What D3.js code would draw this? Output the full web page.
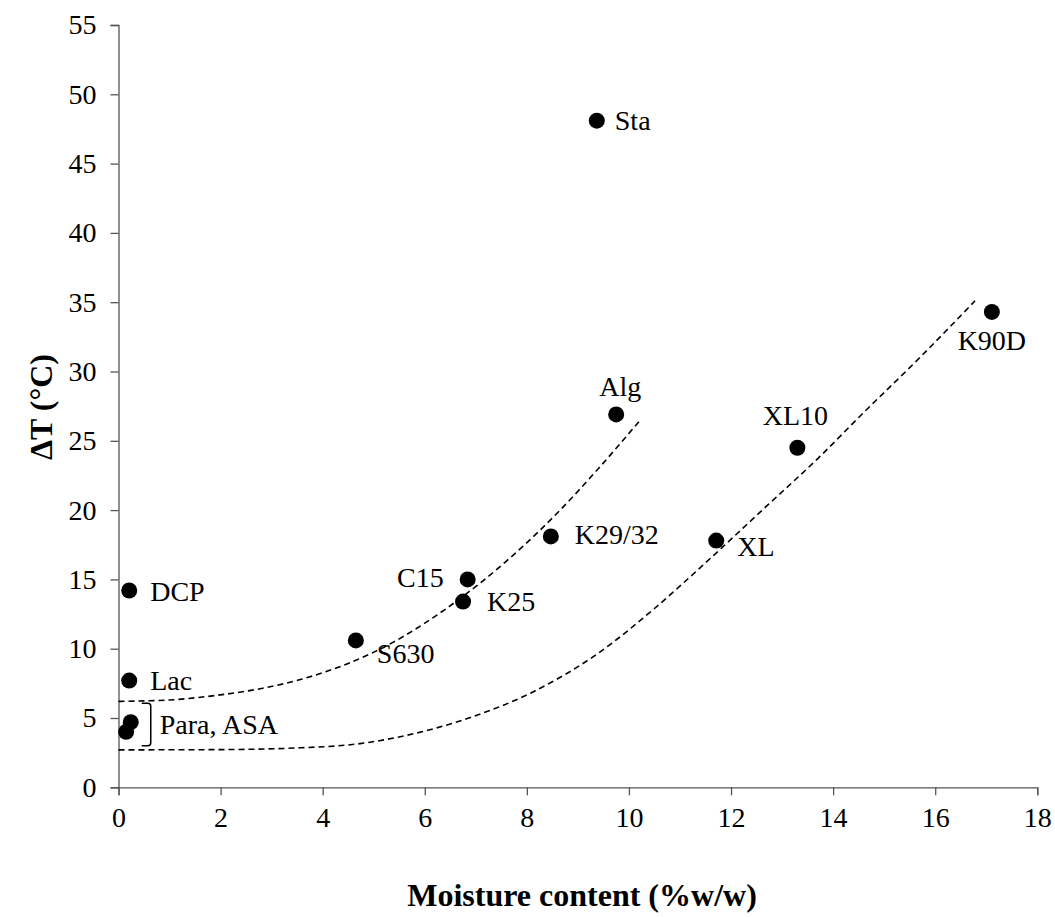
<!DOCTYPE html>
<html>
<head>
<meta charset="utf-8">
<script src="https://cdn.jsdelivr.net/npm/d3@7"></script>
<style>
  html, body { margin: 0; padding: 0; background: #fff; }
  svg { display: block; }
  svg text { font-family: "Liberation Serif", "Times New Roman", serif; fill: #000; }
</style>
</head>
<body>
<svg id="chart" width="1055" height="917"></svg>
<script>
// Excipients: moisture content (%w/w) vs temperature rise ΔT (°C)
const names    = ["Sta", "K90D", "Alg", "XL10", "K29/32", "XL", "C15", "K25", "DCP", "S630", "Lac", "Para", "ASA"];
const moisture = [9.37, 17.11, 9.75, 13.30, 8.47, 11.71, 6.84, 6.75, 0.21, 4.65, 0.21, 0.24, 0.15];
const deltaT   = [48.1, 34.3, 26.9, 24.5, 18.1, 17.8, 15.0, 13.4, 14.2, 10.6, 7.7, 4.7, 4.0];

// Dashed trend curves
const trendUpperX = [0, 1, 1.8, 2.8, 3.6, 4.5, 5.3, 6.0, 6.8, 7.6, 8.3, 8.65, 9.4, 10.2];
const trendUpperY = [6.2, 6.3, 6.58, 7.13, 7.81, 8.94, 10.3, 11.84, 13.92, 16.32, 18.7, 19.99, 22.99, 26.4];
const trendLowerX = [0, 2, 3.56, 4.73, 5.52, 6.82, 8.13, 9.37, 10.5, 11.53, 12.7, 13.75, 14.56, 15.67, 16.78];
const trendLowerY = [2.7, 2.72, 2.85, 3.15, 3.65, 4.95, 6.9, 9.6, 12.9, 16.3, 20.3, 23.9, 26.9, 30.9, 35.1];

// Axis ticks
const xTicks = [0, 2, 4, 6, 8, 10, 12, 14, 16, 18];
const yTicks = [0, 5, 10, 15, 20, 25, 30, 35, 40, 45, 50, 55];

// Label placement per point: [dx, dy, anchor] in pixels from the marker centre
const labelPlacement = {
  "Sta":    [18, 9, "start"],
  "K90D":   [0, 38, "middle"],
  "Alg":    [4, -18, "middle"],
  "XL10":   [-2, -23, "middle"],
  "K29/32": [24, 8, "start"],
  "XL":     [21, 15, "start"],
  "C15":    [-24, 8, "end"],
  "K25":    [24, 9, "start"],
  "DCP":    [21, 11, "start"],
  "S630":   [21, 23, "start"],
  "Lac":    [21, 9, "start"]
};

const svg = d3.select("#chart");
const x = d3.scaleLinear().domain([0, 18]).range([118.5, 1037.3]);
const y = d3.scaleLinear().domain([0, 55]).range([787.3, 25]);

const axisColor = "#555";
const serif = '"Liberation Serif", "Times New Roman", serif';
const fontSize = 28;

// Axes
const xAxis = svg.append("g")
  .attr("transform", `translate(0,${y(0)})`)
  .call(d3.axisBottom(x).tickValues(xTicks).tickSize(8).tickPadding(12).tickFormat(d3.format("d")));
const yAxis = svg.append("g")
  .attr("transform", `translate(${x(0)},0)`)
  .call(d3.axisLeft(y).tickValues(yTicks).tickSize(8).tickPadding(14).tickFormat(d3.format("d")));

[xAxis, yAxis].forEach(g => {
  g.attr("font-family", serif).attr("font-size", fontSize);
  g.selectAll("path").attr("stroke", axisColor).attr("stroke-width", 1.3);
  g.selectAll("line").attr("stroke", axisColor).attr("stroke-width", 1.3);
  g.selectAll("text").attr("fill", "#000").attr("font-family", serif).attr("font-size", fontSize);
});
xAxis.selectAll("text").attr("dy", "0.71em");

// Axis titles
svg.append("text")
  .attr("x", 582).attr("y", 906)
  .attr("text-anchor", "middle")
  .attr("font-size", 32).attr("font-weight", "bold")
  .text("Moisture content (%w/w)");

svg.append("text")
  .attr("transform", `translate(52,407) rotate(-90)`)
  .attr("text-anchor", "middle")
  .attr("font-size", 32).attr("font-weight", "bold")
  .text("ΔT (°C)");

// Trend curves
const line = d3.line().x(d => x(d[0])).y(d => y(d[1])).curve(d3.curveMonotoneX);
[[trendUpperX, trendUpperY], [trendLowerX, trendLowerY]].forEach(([xs, ys]) => {
  svg.append("path")
    .datum(xs.map((v, i) => [v, ys[i]]))
    .attr("d", line)
    .attr("fill", "none")
    .attr("stroke", "#000")
    .attr("stroke-width", 1.6)
    .attr("stroke-dasharray", "6,4");
});

// Markers
const points = names.map((n, i) => ({ name: n, mx: moisture[i], dt: deltaT[i] }));
svg.append("g").selectAll("circle")
  .data(points)
  .join("circle")
  .attr("cx", d => x(d.mx))
  .attr("cy", d => y(d.dt))
  .attr("r", 8)
  .attr("fill", "#000");

// Point labels
svg.append("g").selectAll("text")
  .data(points.filter(d => labelPlacement[d.name]))
  .join("text")
  .attr("x", d => x(d.mx) + labelPlacement[d.name][0])
  .attr("y", d => y(d.dt) + labelPlacement[d.name][1])
  .attr("text-anchor", d => labelPlacement[d.name][2])
  .attr("font-size", fontSize)
  .text(d => d.name);

// Bracket grouping Para and ASA
const para = points.find(d => d.name === "Para");
const asa = points.find(d => d.name === "ASA");
const bx = x(para.mx) + 20;
const bTop = y(para.dt) - 19;
const bBot = y(asa.dt) + 14;
svg.append("path")
  .attr("d", `M${bx - 9},${bTop} L${bx - 3},${bTop} Q${bx},${bTop} ${bx},${bTop + 3} L${bx},${bBot - 3} Q${bx},${bBot} ${bx - 3},${bBot} L${bx - 9},${bBot}`)
  .attr("fill", "none")
  .attr("stroke", "#000")
  .attr("stroke-width", 1.5);

svg.append("text")
  .attr("x", bx + 9)
  .attr("y", (bTop + bBot) / 2 + 9)
  .attr("font-size", fontSize)
  .text("Para, ASA");
</script>
</body>
</html>
